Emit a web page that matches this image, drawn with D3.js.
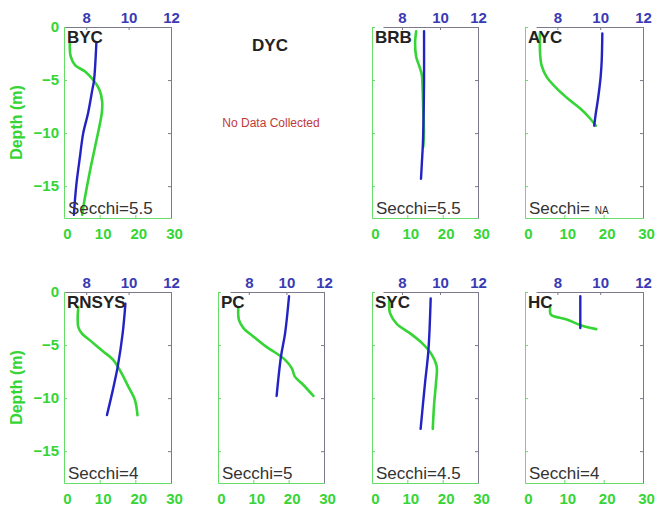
<!DOCTYPE html>
<html><head><meta charset="utf-8">
<script src="https://cdn.jsdelivr.net/npm/d3@7"></script>
<style>
body{margin:0;background:#fff}
svg{display:block}
text{font-family:"Liberation Sans",Arial,sans-serif}
</style>
</head><body><svg id="c" width="656" height="509"></svg>
<script>
// ---------- data ----------
const sites = ["BYC","DYC","BRB","AYC","RNSYS","PC","SYC","HC"];
const secchi = ["5.5", null, "5.5", "NA", "4", "5", "4.5", "4"];
const depthTicks = [0,-5,-10,-15];
const greenTicks = [0,10,20,30];
const blueTicks = [8,10,12];
const depthDomain = [-18,0];
const greenDomain = [0,30];
const blueDomain = [7,12];

// [value, depth]
const bycGreen = [[1.6,-1.6],[1.9,-2.8],[3.1,-3.6],[5.9,-4.2],[8.2,-5.0],[9.9,-5.9],[10.7,-7.0],[10.6,-8.1],[9.9,-9.4],[8.7,-11.3],[7.5,-13.2],[6.4,-15.1],[5.4,-17.0],[5.1,-17.7]];
const bycBlue  = [[8.48,-1.5],[8.37,-5.0],[8.29,-5.9],[8.09,-8.1],[7.86,-10.0],[7.7,-12.3],[7.55,-14.6],[7.47,-16.3],[7.42,-17.7]];
const brbGreen = [[12.5,-0.4],[12.2,-1.5],[12.5,-2.8],[13.4,-3.7],[14.1,-4.5],[14.3,-5.6],[14.5,-7.8],[14.7,-10.0],[14.5,-11.3]];
const brbBlue  = [[9.16,-0.4],[9.16,-5.0],[9.14,-8.0],[9.1,-11.0],[9.04,-13.0],[9.0,-14.3]];
const aycGreen = [[3.8,-0.6],[3.8,-2.2],[4.2,-3.6],[5.5,-4.7],[8.1,-5.8],[11.4,-6.9],[14.4,-7.8],[16.5,-8.6],[18.0,-9.3]];
const aycBlue  = [[10.1,-0.6],[10.07,-3.2],[10.02,-4.7],[9.91,-6.6],[9.79,-8.2],[9.72,-9.3]];
const rnsysGreen = [[4.0,-1.4],[4.0,-3.3],[5.0,-3.9],[7.8,-4.7],[11.0,-5.6],[13.8,-6.4],[16.2,-7.7],[18.0,-8.9],[19.9,-10.2],[20.6,-11.6]];
const rnsysBlue  = [[9.85,-1.1],[9.72,-3.9],[9.49,-7.0],[9.26,-9.2],[8.98,-11.6]];
const pcGreen = [[5.75,-1.5],[5.9,-2.6],[7.2,-3.4],[10.0,-4.2],[13.8,-5.2],[16.6,-5.8],[19.0,-6.4],[20.9,-7.2],[21.8,-8.0],[23.7,-8.6],[27.0,-9.8]];
const pcBlue  = [[10.14,-0.4],[9.93,-3.9],[9.71,-6.1],[9.48,-9.8]];
const sycGreen = [[4.9,-0.75],[5.1,-2.0],[7.0,-3.0],[10.8,-3.9],[14.1,-4.8],[16.9,-5.9],[18.3,-7.0],[18.1,-8.6],[17.6,-10.5],[17.2,-12.9]];
const sycBlue  = [[9.51,-0.6],[9.39,-5.5],[9.21,-8.6],[8.98,-12.9]];
const hcGreen = [[6.4,-1.5],[6.4,-2.0],[6.8,-2.2],[10.6,-2.6],[14.0,-3.1],[18.1,-3.5]];
const hcBlue  = [[9.07,-0.4],[9.07,-3.4]];

const greenSeries = [bycGreen, null, brbGreen, aycGreen, rnsysGreen, pcGreen, sycGreen, hcGreen];
const blueSeries  = [bycBlue,  null, brbBlue,  aycBlue,  rnsysBlue,  pcBlue,  sycBlue,  hcBlue];

// ---------- layout ----------
const cols = [{L:64,L2:65,R:171},{L:218,L2:230,R:324},{L:372,L2:383,R:478},{L:525,L2:536,R:643}];
const rows = [{T:27,B:218},{T:292,B:483}];
const GREEN = "#35d535", GREEN_AX = "#66dd66", BLUE = "#2323c4", BLUE_TXT = "#3a3ab4", GREY = "#7a7a8c";
const FONT = '"Liberation Sans",Arial,sans-serif';

const svg = d3.select("#c");

sites.forEach((site, i) => {
  const c = cols[i % 4], r = rows[Math.floor(i / 4)];
  const g = svg.append("g");
  if (!greenSeries[i]) {
    const cx = (c.L + c.R) / 2 - 1;
    g.append("text").attr("x", cx).attr("y", r.T + 24).attr("text-anchor","middle")
      .attr("font-size", 17).attr("font-weight","bold").attr("fill","#222").text(site);
    g.append("text").attr("x", cx + 1).attr("y", r.T + 100).attr("text-anchor","middle")
      .attr("font-size", 12).attr("fill","#c03a3a").text("No Data Collected");
    return;
  }
  const y = d3.scaleLinear().domain(depthDomain).range([r.B, r.T]);
  const xg = d3.scaleLinear().domain(greenDomain).range([c.L, c.R]);
  const xb = d3.scaleLinear().domain(blueDomain).range([c.L2, c.R]);

  const la = g.append("g").attr("transform", `translate(${c.L},0)`)
    .call(d3.axisLeft(y).tickValues(depthTicks).tickSizeInner(-3).tickSizeOuter(0).tickPadding(5)
      .tickFormat(i % 4 === 0 ? d3.format("d") : ""));
  const ba = g.append("g").attr("transform", `translate(0,${r.B})`)
    .call(d3.axisBottom(xg).tickValues(greenTicks).tickSizeInner(-3).tickSizeOuter(0).tickPadding(10)
      .tickFormat(d3.format("d")));
  const ta = g.append("g").attr("transform", `translate(0,${r.T})`)
    .call(d3.axisTop(xb).tickValues(blueTicks).tickSizeInner(-3).tickSizeOuter(0).tickPadding(4)
      .tickFormat(d3.format("d")));
  const ra = g.append("g").attr("transform", `translate(${c.R},0)`)
    .call(d3.axisRight(y).tickValues(depthTicks).tickSizeInner(-3).tickSizeOuter(0).tickFormat(""));

  [la, ba].forEach(a => {
    a.select(".domain").attr("stroke", GREEN_AX);
    a.selectAll(".tick line").attr("stroke", GREEN_AX);
    a.selectAll(".tick text").attr("fill", GREEN).attr("font-size", 15).attr("font-weight","bold")
      .attr("font-family", FONT);
  });
  ba.selectAll(".tick text").attr("dx", 3);
  ta.select(".domain").attr("stroke", GREY);
  ta.selectAll(".tick line").attr("stroke", GREY);
  ta.selectAll(".tick text").attr("fill", BLUE_TXT).attr("font-size", 15).attr("font-weight","bold")
    .attr("font-family", FONT);
  ra.select(".domain").attr("stroke", GREY);
  ra.selectAll(".tick line").attr("stroke", GREY);

  const line = (xs) => d3.line().x(d => xs(d[0])).y(d => y(d[1])).curve(d3.curveCatmullRom.alpha(0.5));
  g.append("path").datum(greenSeries[i]).attr("d", line(xg)).attr("fill","none")
    .attr("stroke", GREEN).attr("stroke-width", 2.6).attr("stroke-linecap","round");
  g.append("path").datum(blueSeries[i]).attr("d", line(xb)).attr("fill","none")
    .attr("stroke", BLUE).attr("stroke-width", 2.4).attr("stroke-linecap","round");

  g.append("text").attr("x", c.L + 3).attr("y", r.T + 16).attr("font-size", 17)
    .attr("font-weight","bold").attr("fill","#222").text(site);
  const st = g.append("text").attr("x", c.L + 4).attr("y", r.B - 4).attr("font-size", 17).attr("fill","#333");
  if (secchi[i] === "NA") {
    st.text("Secchi= ");
    st.append("tspan").attr("font-size", 10).text("NA");
  } else {
    st.text("Secchi=" + secchi[i]);
  }

  if (i % 4 === 0) {
    g.append("text").attr("transform", `translate(22,${(r.T + r.B) / 2}) rotate(-90)`)
      .attr("text-anchor","middle").attr("font-size", 16).attr("font-weight","bold")
      .attr("fill", GREEN).text("Depth (m)");
  }
});
</script>
</body></html>
